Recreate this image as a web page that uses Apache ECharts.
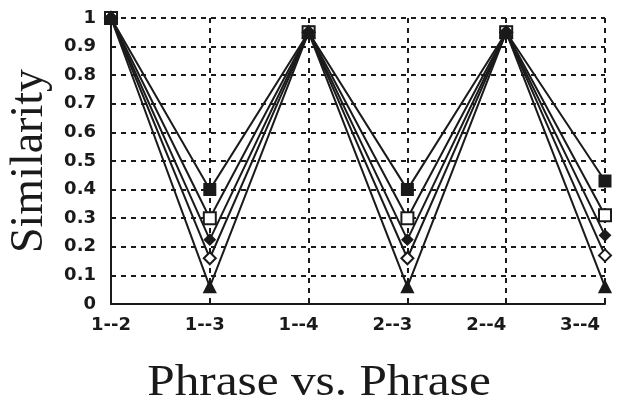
<!DOCTYPE html>
<html>
<head>
<meta charset="utf-8">
<script src="https://cdn.jsdelivr.net/npm/echarts@6/dist/echarts.min.js"></script>
<style>
html,body{margin:0;padding:0;background:#fff;}
#chart{width:627px;height:403px;}
</style>
</head>
<body>
<div id="chart"></div>
<script>
// Categories (tick labels on the x axis)
var categories = ['1--2', '1--3', '1--4', '2--3', '2--4', '3--4'];
// Y tick range
var yMin = 0, yMax = 1, yStep = 0.1;
// Series values
var filledSquare  = [1.00, 0.40, 0.95, 0.40, 0.95, 0.43];
var openSquare    = [1.00, 0.30, 0.95, 0.30, 0.95, 0.31];
var openDiamond   = [1.00, 0.16, 0.95, 0.16, 0.95, 0.17];
var filledDiamond = [1.00, 0.225, 0.95, 0.225, 0.95, 0.24];
var triangle      = [1.00, 0.06, 0.95, 0.06, 0.95, 0.06];
var xTitle = 'Phrase vs. Phrase';
var yTitle = 'Similarity';

function pts(arr) { return arr.map(function (v, i) { return [i, v]; }); }

var INK = '#1a1a1a';
var dash = { color: INK, width: 2, type: [5, 5] };

function mk(name, data, symbol, size, filled) {
  return {
    name: name, type: 'line', xAxisIndex: 0, yAxisIndex: 0,
    data: pts(data), symbol: symbol, symbolSize: size, showSymbol: true,
    lineStyle: { color: INK, width: 2 },
    itemStyle: { color: filled ? INK : '#fff', borderColor: INK, borderWidth: 2, opacity: 1 },
    emphasis: { disabled: true }, animation: false
  };
}

var chart = echarts.init(document.getElementById('chart'), null, { renderer: 'canvas' });
chart.setOption({
  backgroundColor: '#fff',
  animation: false,
  grid: [
    { left: 111, right: 22, top: 18, bottom: 99, containLabel: false, outerBoundsMode: 'none' },
    { left: 111, right: 47, top: 18, bottom: 99, containLabel: false, outerBoundsMode: 'none' }
  ],
  xAxis: [
    {
      type: 'value', gridIndex: 0, min: 0, max: categories.length - 1, interval: 1,
      axisLine: { show: true, onZero: false, lineStyle: { color: INK, width: 2 } },
      axisTick: { show: true, inside: true, length: 4, lineStyle: { color: INK, width: 2 } },
      axisLabel: { show: false },
      splitLine: { show: true, lineStyle: dash }
    },
    {
      type: 'value', gridIndex: 1, min: 0, max: categories.length - 1, interval: 1,
      axisLine: { show: false }, axisTick: { show: false }, splitLine: { show: false },
      axisLabel: {
        show: true, margin: 12, color: INK,
        fontFamily: 'DejaVu Sans', fontWeight: 'bold', fontSize: 18,
        formatter: function (v) { return categories[Math.round(v)] || ''; }
      }
    }
  ],
  yAxis: [
    {
      type: 'value', gridIndex: 0, min: yMin, max: yMax, interval: yStep,
      axisLine: { show: true, onZero: false, lineStyle: { color: INK, width: 2 } },
      axisTick: { show: false },
      axisLabel: {
        show: true, margin: 15, color: INK,
        fontFamily: 'DejaVu Sans', fontWeight: 'bold', fontSize: 18,
        formatter: function (v) { return String(Math.round(v * 10) / 10); }
      },
      splitLine: { show: true, lineStyle: dash },
      name: yTitle, nameLocation: 'middle', nameGap: 56, nameRotate: 90,
      nameTextStyle: { fontFamily: 'Liberation Serif', fontSize: 46, color: INK }
    },
    {
      type: 'value', gridIndex: 1, min: yMin, max: yMax, show: false
    }
  ],
  graphic: [
    {
      type: 'text', x: 319, y: 383,
      style: {
        text: xTitle, fill: INK,
        font: '44px "Liberation Serif"',
        textAlign: 'center', textVerticalAlign: 'middle',
        align: 'center', verticalAlign: 'middle'
      },
      scaleX: 1.12
    }
  ],
  series: [
    mk('filled square', filledSquare, 'rect', 11, true),
    mk('open square', openSquare, 'rect', 12, false),
    mk('open diamond', openDiamond, 'diamond', 12, false),
    mk('filled diamond', filledDiamond, 'diamond', [10, 10], true),
    mk('triangle', triangle, 'triangle', 11, true)
  ]
});
</script>
</body>
</html>
